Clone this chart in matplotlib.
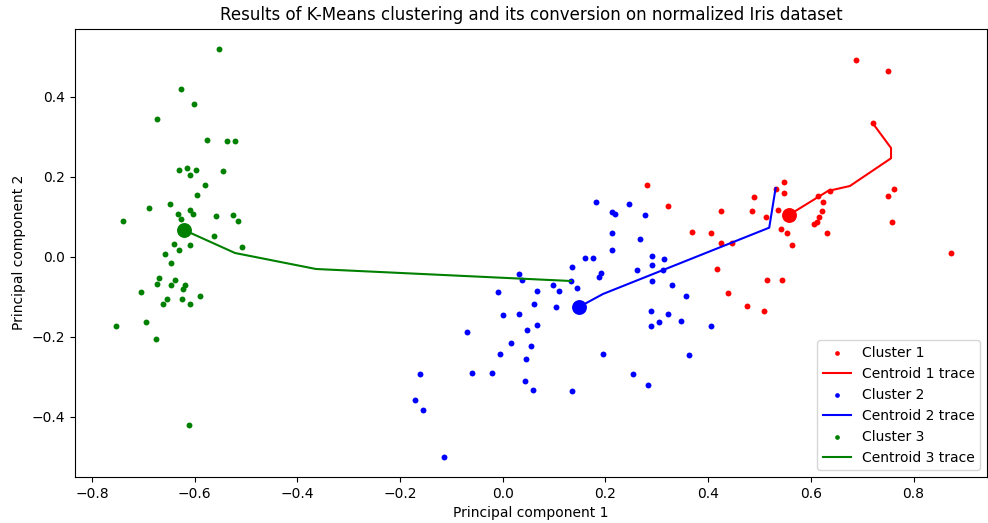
import matplotlib
matplotlib.use('Agg')
import matplotlib.pyplot as plt

# Cluster 1 (red)
c1_x = [0.6877, 0.7494, 0.7202, 0.5469, 0.5314, 0.5469, 0.4885, 0.6377, 0.6131, 0.6240,
        0.7623, 0.7494, 0.4243, 0.4852, 0.5364, 0.6215, 0.5119, 0.6162, 0.6112, 0.6065,
        0.7572, 0.3684, 0.4054, 0.4243, 0.4457, 0.5417, 0.5528, 0.6318, 0.5631, 0.8721,
        0.4165, 0.5150, 0.5442, 0.4379, 0.4749, 0.5091, 0.2802, 0.3222]
c1_y = [0.4918, 0.4643, 0.335, 0.1868, 0.1708, 0.1593, 0.1493, 0.1658, 0.1525, 0.1383,
        0.17, 0.1525, 0.1143, 0.1143, 0.1183, 0.115, 0.0993, 0.1008, 0.0875, 0.0825,
        0.0868, 0.0633, 0.06, 0.0358, 0.0358, 0.07, 0.06, 0.06, 0.0293, 0.0093,
        -0.03, -0.0568, -0.0568, -0.0908, -0.1218, -0.135, 0.18, 0.1283]

# Cluster 2 (blue)
c2_x = [0.1600, 0.1353, 0.0315, 0.0374, 0.1328, -0.0088, 0.0666, 0.0983, 0.1094, 0.1439,
        0.0607, 0.1036, -0.0002, 0.0315, 0.0666, 0.0477, -0.0697, 0.0160, 0.0555, -0.0055,
        0.0446, -0.1606, -0.0594, -0.0216, 0.0426, 0.0582, 0.1353, -0.1710, -0.1554, -0.1151,
        0.1809, 0.2451, 0.2120, 0.2185, 0.2775, 0.2132, 0.2666, 0.2132, 0.1756, 0.2911,
        0.3144, 0.2911, 0.2613, 0.3119, 0.1918, 0.1867, 0.2911, 0.3289, 0.3573, 0.2880,
        0.3222, 0.3470, 0.3041, 0.2880, 0.4054, 0.1945, 0.3625, 0.2535, 0.2827]
c2_y = [-0.0018, -0.0243, -0.0433, -0.0575, -0.06, -0.0875, -0.0843, -0.0708, -0.0843, -0.0775,
        -0.1183, -0.125, -0.1458, -0.1425, -0.17, -0.1833, -0.1875, -0.215, -0.2218, -0.2418,
        -0.2558, -0.2933, -0.29, -0.29, -0.3108, -0.3318, -0.3343, -0.3583, -0.3825, -0.4993,
        0.1383, 0.1318, 0.1118, 0.1075, 0.1043, 0.06, 0.0458, 0.0183, -0.0025, 0.0018,
        -0.0058, -0.02, -0.0325, -0.0325, -0.0393, -0.05, -0.06, -0.0708, -0.0975, -0.1358,
        -0.1425, -0.1593, -0.1633, -0.1733, -0.1733, -0.2418, -0.245, -0.2933, -0.3208]

# Cluster 3 (green)
c3_x = [-0.5526, -0.6271, -0.6007, -0.6727, -0.5765, -0.5370, -0.5208, -0.6299, -0.6143, -0.5979,
        -0.6090, -0.5448, -0.5793, -0.5954, -0.6486, -0.6889, -0.7395, -0.6330, -0.6090, -0.6032,
        -0.6271, -0.5584, -0.5259, -0.5150, -0.5629, -0.6408, -0.6085, -0.6305, -0.5072, -0.6571,
        -0.6460, -0.6694, -0.6727, -0.6377, -0.6460, -0.6188, -0.6221, -0.7050, -0.6538, -0.6246,
        -0.5902, -0.6622, -0.6090, -0.6941, -0.7525, -0.6752, -0.6116]
c3_y = [0.52, 0.42, 0.3825, 0.3443, 0.2933, 0.29, 0.29, 0.2175, 0.2218, 0.2175,
        0.2043, 0.2143, 0.18, 0.1558, 0.1325, 0.1218, 0.0908, 0.1083, 0.1183, 0.1083,
        0.095, 0.1018, 0.105, 0.0908, 0.0533, 0.0325, 0.0293, 0.0183, 0.0258, 0.0083,
        -0.0158, -0.0533, -0.0668, -0.0568, -0.07, -0.07, -0.0808, -0.0875, -0.105, -0.105,
        -0.0983, -0.1183, -0.1183, -0.1625, -0.1733, -0.2043, -0.42]

# Centroid traces (start -> final)
t1_x = [0.7202, 0.7561, 0.7561, 0.6760, 0.6332, 0.5572]
t1_y = [0.335, 0.2725, 0.2468, 0.1775, 0.165, 0.105]
t2_x = [0.5314, 0.5189, 0.1951, 0.1484]
t2_y = [0.1725, 0.0733, -0.0925, -0.125]
t3_x = [0.1328, -0.3637, -0.5214, -0.6207]
t3_y = [-0.06, -0.03, 0.01, 0.0675]

fig = plt.figure(figsize=(9.88, 5.23), dpi=100)
ax = fig.add_axes([75 / 988, 1 - 477 / 523, 912 / 988, (477 - 28.6) / 523])

ax.scatter(c1_x, c1_y, s=18, color='red', label='Cluster 1', linewidths=0)
ax.plot(t1_x, t1_y, color='red', label='Centroid 1 trace')
ax.scatter(t1_x[-1], t1_y[-1], s=115, color='red', linewidths=0)
ax.scatter(c2_x, c2_y, s=18, color='blue', label='Cluster 2', linewidths=0)
ax.plot(t2_x, t2_y, color='blue', label='Centroid 2 trace')
ax.scatter(t2_x[-1], t2_y[-1], s=115, color='blue', linewidths=0)
ax.scatter(c3_x, c3_y, s=18, color='green', label='Cluster 3', linewidths=0)
ax.plot(t3_x, t3_y, color='green', label='Centroid 3 trace')
ax.scatter(t3_x[-1], t3_y[-1], s=115, color='green', linewidths=0)

ax.set_xlim(-0.833, 0.943)
ax.set_ylim(-0.55, 0.571)
ax.set_xlabel('Principal component 1')
ax.set_ylabel('Principal component 2')
ax.set_title('Results of K-Means clustering and its conversion on normalized Iris dataset')
ax.legend(loc='lower right', markerscale=0.8)

fig.savefig('out.png', dpi=100)
